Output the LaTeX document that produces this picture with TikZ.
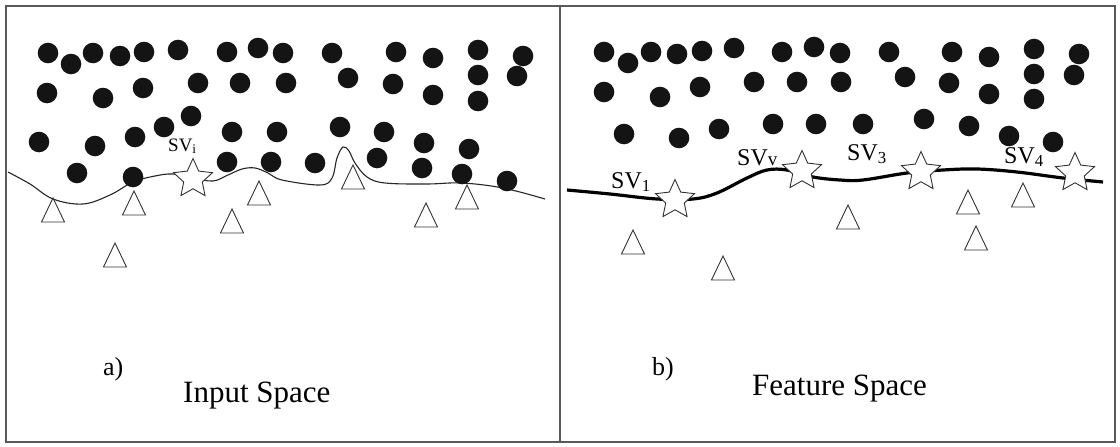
\documentclass[tikz,border=0pt]{standalone}
\usepackage{fontspec}
\setmainfont{Liberation Serif}
\usetikzlibrary{shapes.geometric}
\begin{document}
\begin{tikzpicture}[x=1pt,y=-1pt,
  dot/.style={fill=black!92},
  svstar/.style={star, star points=5, star point ratio=2.1, minimum size=41pt, inner sep=0pt, draw=black!80, fill=white, line width=0.9pt},
  tri/.style={draw=black!80, line width=0.9pt, line join=miter},
  frame/.style={draw=black!65, line width=2pt},
  svlbl/.style={inner sep=0pt, anchor=base west, font=\fontsize{24}{26}\selectfont},
  svlblsmall/.style={inner sep=0pt, anchor=base west, font=\fontsize{19}{21}\selectfont},
  partlbl/.style={inner sep=0pt, anchor=base west, font=\fontsize{26}{28}\selectfont},
  title/.style={inner sep=0pt, anchor=base west, font=\fontsize{31}{33}\selectfont},
  thinsep/.style={draw=black!85, line width=1.1pt},
  thicksep/.style={draw=black, line width=3.2pt}
]
\useasboundingbox (0,0) rectangle (1120,447);
\fill[white] (0,0) rectangle (1120,447);

% ---------- panel a ----------
\draw[thinsep] plot[smooth, tension=0.6] coordinates {(8,172) (30,184) (53,199) (83,204) (110,195) (133,182) (155,176) (173,174) (193,178) (213,181) (228,175) (242,169) (255,168) (268,173) (282,180) (320,185) (332,178) (337,158) (343,147) (349,151) (355,163) (367,177) (385,183) (427,184) (462,183) (503,188) (545,199)};

\foreach \p in {(48,53),(71,64),(93,53),(120,56),(144,52),(178,50),(227,52),(258,48),(283,53),(332,53),(396,52),(433,58),(478,50),(523,56),
  (47,93),(103,98),(143,88),(198,83),(240,83),(286,83),(348,78),(393,84),(433,95),(478,75),(517,76),(478,101),
  (39,142),(95,146),(135,137),(164,127),(191,116),(232,132),(277,132),(340,127),(384,132),(424,143),(469,149),
  (77,173),(133,177),(227,162),(271,162),(315,163),(377,158),(422,168),(462,174),(507,181)}
  \fill[dot] \p circle (10.3);

\foreach \p in {(53,210),(134,203),(115,255),(232,221),(259,193),(353,177),(426,215),(467,197)}
  \draw[tri] \p ++(-11.5,12) -- ++(11.5,-24) -- ++(11.5,24) -- cycle;

\node[svstar] (svi) at (193,179) {};
\node[svlblsmall] (lsvi) at (168,151) {SV\textsubscript{i}};

\node[partlbl] (la) at (103,375) {a)};
\node[title] (tin) at (183,402) {Input Space};

% ---------- panel b ----------
\draw[thicksep] plot[smooth, tension=0.6] coordinates {(567,190) (610,194) (657,199) (693,199) (717,193) (747,178) (767,170) (787,170) (813,177) (840,180) (863,180) (907,173) (943,170) (977,169) (1017,172) (1063,178) (1103,182)};

\foreach \p in {(604,52),(628,63),(651,52),(677,54),(702,51),(734,48),(782,52),(814,47),(840,53),(889,52),(952,52),(989,57),(1034,49),(1079,54),
  (604,92),(660,97),(700,87),(754,82),(797,82),(841,82),(905,77),(949,83),(989,94),(1034,74),(1074,75),(1034,99),
  (624,134),(679,138),(719,129),(773,124),(816,124),(863,124),(924,119),(969,126),(1009,136),(1053,142)}
  \fill[dot] \p circle (10.3);

\foreach \p in {(633,242),(723,268),(848,217),(968,202),(976,238),(1023,195)}
  \draw[tri] \p ++(-11.5,12) -- ++(11.5,-24) -- ++(11.5,24) -- cycle;

\node[svstar] (sv1) at (675,200) {};
\node[svstar] (sv2) at (802,171) {};
\node[svstar] (sv3) at (921,172) {};
\node[svstar] (sv4) at (1075,173) {};
\node[svlbl] (lsv1) at (611,188) {SV\textsubscript{1}};
\node[svlbl] (lsv2) at (737,165) {SV{\fontsize{19}{19}\selectfont v}};
\node[svlbl] (lsv3) at (847,160) {SV\textsubscript{3}};
\node[svlbl] (lsv4) at (1004,163) {SV\textsubscript{4}};

\node[partlbl] (lb) at (652,375) {b)};
\node[title] (tfe) at (752,395) {Feature Space};

% ---------- frame ----------
\draw[frame] (6,6) rectangle (1115,442);
\draw[frame] (560,6) -- (560,442);
\end{tikzpicture}
\end{document}
